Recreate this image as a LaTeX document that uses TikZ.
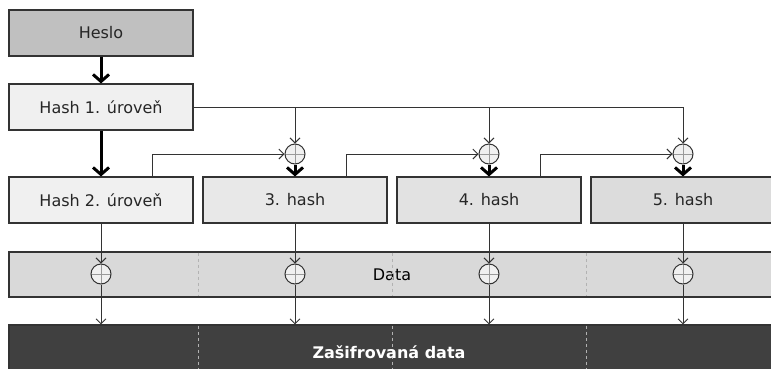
\documentclass[tikz,border=0pt]{standalone}
\usepackage{fontspec}
\setmainfont{DejaVu Sans}
\usetikzlibrary{arrows.meta,calc}
\definecolor{bord}{HTML}{333333}
\definecolor{cheslo}{HTML}{C0C0C0}
\definecolor{cone}{HTML}{F0F0F0}
\definecolor{cthree}{HTML}{E8E8E8}
\definecolor{cfour}{HTML}{E2E2E2}
\definecolor{cfive}{HTML}{DCDCDC}
\definecolor{cdata}{HTML}{D9D9D9}
\definecolor{czas}{HTML}{404040}
\tikzset{
  box/.style={draw=bord, line width=1.1pt, minimum width=184pt, minimum height=46pt, inner sep=0pt, font=\fontsize{16}{19}\selectfont, text=black!85},
  band/.style={draw=bord, line width=1.1pt, minimum width=766pt, inner sep=0pt, font=\fontsize{16}{19}\selectfont},
  xorc/.style={circle, draw=bord, line width=1pt, fill=cone, minimum size=20pt, inner sep=0pt,
    path picture={\draw[gray!80, line width=0.6pt] (path picture bounding box.north) -- (path picture bounding box.south) (path picture bounding box.west) -- (path picture bounding box.east);}},
  thinarr/.style={draw=bord, line width=0.9pt, -{Straight Barb[length=5pt,width=10pt,line width=0.9pt]}},
  thickarr/.style={draw=black, line width=3pt, -{Straight Barb[length=7pt,width=16pt,line width=3pt]}},
  sep/.style={draw=gray!60, dashed, line width=0.6pt}
}
\begin{document}
\begin{tikzpicture}[x=1pt,y=-1pt]
\useasboundingbox (0,0) rectangle (771,368);
\clip (0,0) rectangle (771,368);
\fill[white] (0,0) rectangle (771,368);
\node[box, fill=cheslo] (heslo) at (101,33) {Heslo};
\node[box, fill=cone] (h1) at (101,107) {Hash 1. úroveň};
\node[box, fill=cone] (h2) at (101,200) {Hash 2. úroveň};
\node[box, fill=cthree] (h3) at (295,200) {3. hash};
\node[box, fill=cfour] (h4) at (489,200) {4. hash};
\node[box, fill=cfive] (h5) at (683,200) {5. hash};
\node[band, fill=cdata, minimum height=45pt] (data) at (392,274.5) {Data};
\node[band, fill=czas, minimum height=55pt] (zas) at (392,352.5) {};
\foreach \x in {198,392,586} {
  \draw[sep] (\x,252.6) -- (\x,296.4);
  \draw[sep] (\x,325.6) -- (\x,368);
}
\node[text=white, font=\fontsize{16}{19}\selectfont\bfseries] (zastext) at (389,352) {Zašifrovaná data};
\node[xorc] (c3) at (295,154) {};
\node[xorc] (c4) at (489,154) {};
\node[xorc] (c5) at (683,154) {};
\node[xorc] (d2) at (101,274) {};
\node[xorc] (d3) at (295,274) {};
\node[xorc] (d4) at (489,274) {};
\node[xorc] (d5) at (683,274) {};
% thick arrows
\draw[thickarr] (heslo.south) -- (h1.north);
\draw[thickarr] (h1.south) -- (h2.north);
\draw[thickarr] (c3.south) -- (h3.north);
\draw[thickarr] (c4.south) -- (h4.north);
\draw[thickarr] (c5.south) -- (h5.north);
% hash 1 distribution
\draw[thinarr] (h1.east) -| (c3.north);
\draw[thinarr] (h1.east) -| (c4.north);
\draw[thinarr] (h1.east) -| (c5.north);
% chain
\draw[thinarr] ($(h2.north east)+(-41,0)$) |- (c3.west);
\draw[thinarr] ($(h3.north east)+(-41,0)$) |- (c4.west);
\draw[thinarr] ($(h4.north east)+(-41,0)$) |- (c5.west);
% data xor
\foreach \h/\d in {h2/d2,h3/d3,h4/d4,h5/d5} {
  \draw[thinarr] (\h.south) -- (\d.north);
  \draw[thinarr] (\d.south) -- (\d.south |- zas.north);
}
\end{tikzpicture}
\end{document}
